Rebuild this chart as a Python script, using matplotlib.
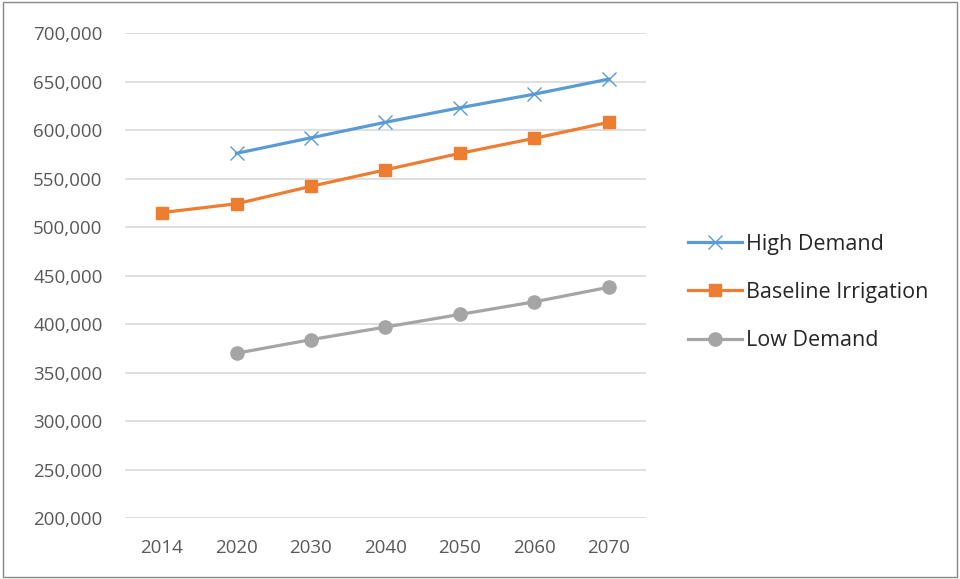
import matplotlib.pyplot as plt
from matplotlib.patches import Rectangle
from matplotlib.ticker import FuncFormatter

plt.rcParams['font.family'] = ['Open Sans', 'DejaVu Sans']

years = ['2014', '2020', '2030', '2040', '2050', '2060', '2070']
high_demand = [None, 576000, 592000, 608000, 623000, 637000, 652500]
baseline = [515000, 524000, 542000, 559000, 576000, 591500, 608000]
low_demand = [None, 370000, 384000, 397000, 410000, 423000, 438000]

fig = plt.figure(figsize=(9.6, 5.79), dpi=100)
ax = fig.add_axes([0.130, 0.105, 0.543, 0.838])

x = list(range(len(years)))


def pts(vals):
    xs = [i for i, v in zip(x, vals) if v is not None]
    ys = [v for v in vals if v is not None]
    return xs, ys


ax.plot(*pts(high_demand), color='#5B9BD5', lw=2.3, marker='x', ms=10,
        mew=1.0, label='High Demand', zorder=3)
ax.plot(*pts(baseline), color='#ED7D31', lw=2.3, marker='s', ms=8,
        label='Baseline Irrigation', zorder=3)
ax.plot(*pts(low_demand), color='#A5A5A5', lw=2.3, marker='o', ms=9.5,
        label='Low Demand', zorder=3)

ax.set_xlim(-0.5, len(years) - 0.5)
ax.set_ylim(200000, 700000)
ax.set_xticks(x)
ax.set_xticklabels(years)
ax.set_yticks(range(200000, 700001, 50000))
ax.yaxis.set_major_formatter(FuncFormatter(lambda v, p: f'{int(v):,}'))
ax.grid(axis='y', color='#D9D9D9', lw=1.2)
ax.set_axisbelow(True)
for s in ax.spines.values():
    s.set_visible(False)
ax.tick_params(length=0, labelsize=13.5, colors='#595959')
ax.tick_params(axis='y', pad=16)
ax.tick_params(axis='x', pad=15)

leg = fig.legend(loc='center left', bbox_to_anchor=(0.697, 0.495), frameon=False,
                 fontsize=15.5, handlelength=2.5, labelspacing=1.27,
                 handletextpad=0.15)
for t in leg.get_texts():
    t.set_color('#262626')

# thin border round the whole chart
fig.patches.append(Rectangle((0.003, 0.003), 0.994, 0.994, transform=fig.transFigure,
                             fill=False, edgecolor='#888888', lw=1.0))

fig.savefig('out.png', dpi=100)
